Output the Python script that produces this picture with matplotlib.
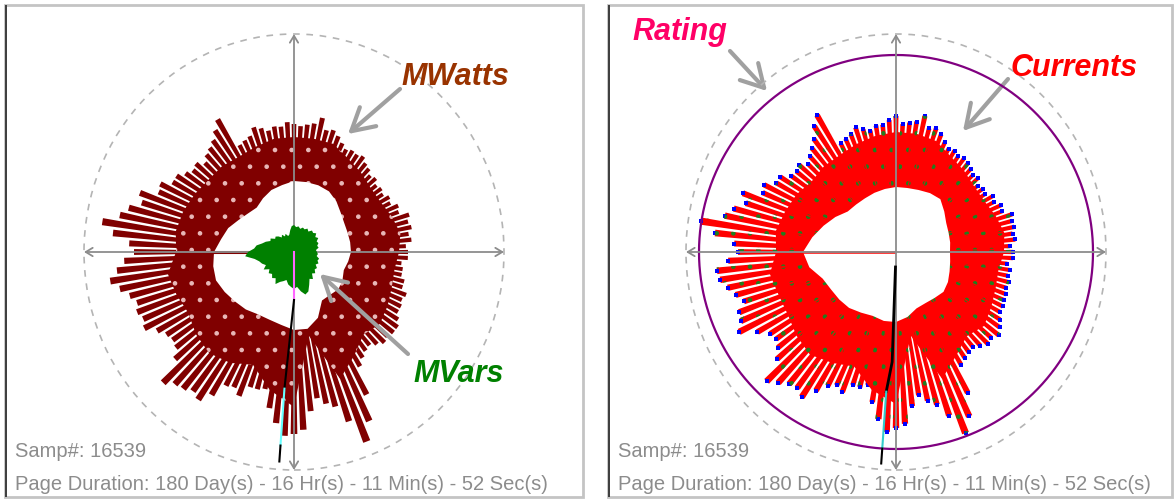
import numpy as np
import matplotlib
matplotlib.use('Agg')
import matplotlib.pyplot as plt
from matplotlib.patches import Ellipse, Rectangle

W, H = 1176, 502
plt.rcParams['hatch.linewidth'] = 0.9

# ---- data (radius in trend units, full scale ring = 210) ----
peak_deg = np.arange(0, 360, 3)
mwatts_peak = [114, 112, 118, 116, 120, 118, 121,
               112, 114, 108, 110, 106, 108, 106, 110, 108,
               112, 114, 118, 116, 117, 115, 119,
               124, 128, 126, 137, 130, 128, 126,
               128, 130, 126, 127, 124, 128, 131, 124, 122, 120,
               153, 145, 138, 134, 131, 126,
               132, 130, 134, 140, 140, 150, 148,
               165, 160, 171, 178, 194, 182, 165,
               160, 170, 178, 186, 178, 170, 165,
               168, 165, 168, 158, 152, 150, 152, 160,
               185, 178, 176, 172, 176, 165,
               150, 148, 154, 142, 142, 140,
               158, 172, 184, 182, 178, 160,
               148, 155, 160, 178,
               203, 185, 160,
               132, 126, 122, 120, 124, 128, 126, 128, 128, 124,
               120, 120, 118, 120, 114, 114, 110, 110, 108, 114]
amps_peak = [117, 114, 120, 118, 121, 120, 122,
             114, 115, 110, 112, 106, 108, 105, 110, 109,
             112, 114, 116, 114, 117, 116, 120,
             126, 130, 128, 139, 132, 130, 128,
             136, 132, 128, 128, 124, 127, 131, 126, 124, 122,
             158, 150, 140, 134, 129, 125,
             130, 128, 130, 138, 138, 148, 146,
             164, 158, 168, 175, 197, 182, 162,
             158, 168, 180, 178, 172, 166, 160,
             168, 170, 176, 160, 150, 148, 152, 160,
             183, 176, 170, 168, 173, 160,
             150, 146, 150, 140, 140, 136,
             152, 168, 180, 176, 172, 155,
             145, 152, 158, 172,
             194, 180, 158,
             130, 126, 124, 122, 126, 130, 128, 132, 128, 124,
             120, 120, 118, 118, 116, 117, 114, 115, 112, 117]

ring_deg = np.arange(0, 360, 10)
mwatts_body = [105, 108, 104, 100, 100, 104, 108, 115, 115, 115,
               115, 112, 110, 112, 112, 115, 118, 120, 118, 128,
               125, 122, 128, 132, 128, 120, 140, 155, 85, 135,
               120, 108, 112, 108, 104, 102]
mwatts_inner = [57, 57, 57, 58, 61, 66, 70, 71, 71, 71,
                68, 66, 62, 58, 60, 64, 70, 74, 80, 82,
                83, 80, 77, 75, 72, 72, 74, 78, 78, 70,
                56, 56, 58, 56, 53, 55]
amps_body = [108, 110, 106, 102, 102, 106, 110, 118, 120, 120,
             118, 115, 112, 112, 110, 115, 118, 122, 120, 128,
             125, 125, 130, 134, 128, 122, 140, 152, 85, 135,
             120, 110, 115, 110, 106, 104]
amps_inner = [54, 55, 56, 58, 63, 69, 68, 66, 65, 65,
              64, 63, 62, 62, 63, 70, 77, 85, 93, 88,
              78, 75, 74, 73, 70, 68, 70, 70, 66, 60,
              59, 60, 62, 60, 57, 55]

var_deg = np.arange(0, 360, 5)
mvars = [23, 22, 25, 24, 26, 25, 28, 26, 29, 27, 28, 25, 27, 25, 26, 24,
         26, 25, 27, 26, 22, 18, 17, 20, 18, 21, 19, 22, 24, 23, 27, 26,
         30, 33, 38, 40, 46, 49, 40, 36, 34, 31, 35, 30, 33, 31, 34, 32,
         37, 33, 31, 29, 33, 35, 37, 35, 40, 44, 42, 36, 31, 33, 28, 30,
         27, 28, 25, 27, 25, 26, 23, 24]

rating = 197
full_scale_x = 210
full_scale_y = 218

# near-vertical trace from centre (deg, r)
trace_l_deg = [270, 270, 266, 266, 266]
trace_l_r = [0, 48, 137, 194, 210]
trace_r_deg = [268, 268, 266, 266, 266]
trace_r_r = [15, 110, 140, 197, 212]

samp_text = "Samp#: 16539"
dur_text = "Page Duration: 180 Day(s) - 16 Hr(s) - 11 Min(s) - 52 Sec(s)"

RMAX = 225
fig = plt.figure(figsize=(W / 100, H / 100), dpi=100)
fig.patch.set_facecolor('white')


def px_rect(x0, y0, x1, y1, **kw):
    return Rectangle((x0 / W, (H - y1) / H), (x1 - x0) / W, (y1 - y0) / H,
                     transform=fig.transFigure, **kw)


def make_polar(cx, cy):
    ax = fig.add_axes([(cx - RMAX) / W, (H - cy - RMAX) / H, 2 * RMAX / W, 2 * RMAX / H],
                      projection='polar')
    ax.set_theta_zero_location('E')
    ax.set_rlim(0, RMAX)
    ax.grid(False)
    ax.set_xticks([])
    ax.set_yticks([])
    ax.spines['polar'].set_visible(False)
    ax.patch.set_alpha(0)
    # dashed full scale ring
    ax.add_patch(Ellipse((0.5, 0.5), full_scale_x / RMAX, full_scale_y / RMAX,
                         transform=ax.transAxes, fill=False, ec='#b4b4b4',
                         lw=1.2, ls=(0, (4, 4)), clip_on=False))
    return ax


def draw_axes_cross(ax):
    ends = [(0, full_scale_x), (np.pi / 2, full_scale_y), (np.pi, full_scale_x),
            (1.5 * np.pi, full_scale_y)]
    for th, r in ends:
        ax.annotate('', xy=(th, r), xytext=(0, 0),
                    arrowprops=dict(arrowstyle='->,head_length=0.5,head_width=0.3',
                                    color='#8c8c8c', lw=1.3, shrinkA=0, shrinkB=0),
                    zorder=6)


th_peak = np.deg2rad(peak_deg)
th_ring = np.deg2rad(ring_deg)
th_var = np.deg2rad(var_deg)
bar_w = np.deg2rad(3) * 0.7

# ---------------- left: MWatts / MVars ----------------
axl = make_polar(294, 253)
axl.bar(th_peak, mwatts_peak, width=bar_w, color='#800000', lw=0, zorder=2)
axl.fill(th_ring, mwatts_body, color='#800000', lw=0, zorder=2.1)
axl.fill(th_ring, mwatts_body, facecolor='none', edgecolor='#e8b8b8', hatch='.',
         lw=0, zorder=2.2)
axl.fill(th_ring, mwatts_inner, color='white', lw=0, zorder=3)
axl.vlines(np.pi, 29, 149, color='#800000', lw=2.2, zorder=4)
draw_axes_cross(axl)
axl.fill(th_var, mvars, color='#008000', lw=0, zorder=7)
axl.plot(np.deg2rad(trace_l_deg[:2]), trace_l_r[:2], color='#ff66ff', lw=1.5, zorder=8)
axl.plot(np.deg2rad(trace_l_deg[1:3]), trace_l_r[1:3], color='black', lw=1.5, zorder=8)
axl.plot(np.deg2rad(trace_l_deg[2:4]), trace_l_r[2:4], color='#66ffff', lw=1.5, zorder=8)
axl.plot(np.deg2rad(trace_l_deg[3:]), trace_l_r[3:], color='black', lw=1.5, zorder=8)

# ---------------- right: Currents / Rating ----------------
axr = make_polar(896, 253)
circ = np.linspace(0, 2 * np.pi, 361)
axr.plot(circ, np.full_like(circ, rating), color='#800080', lw=1.6, zorder=5)
axr.bar(th_peak, amps_peak, width=bar_w, color='#ff0000', lw=0, zorder=2)
axr.plot(th_peak, amps_peak, ls='none', marker='s', ms=2.6, mew=0,
         color='#0000ff', zorder=2.05)
axr.fill(th_ring, amps_body, color='#ff0000', lw=0, zorder=2.1)
axr.bar(th_peak, amps_peak, width=bar_w, facecolor='none', edgecolor='#1f7f1f',
        hatch='.', lw=0, zorder=2.2)
axr.fill(th_ring, amps_inner, color='white', lw=0, zorder=3)
axr.vlines(np.pi, 0, 100, color='#ff0000', lw=1.8, zorder=4)
draw_axes_cross(axr)
axr.plot(np.deg2rad(trace_r_deg[:3]), trace_r_r[:3], color='black', lw=2, zorder=8)
axr.plot(np.deg2rad(trace_r_deg[2:4]), trace_r_r[2:4], color='#33cccc', lw=1.5, zorder=8)
axr.plot(np.deg2rad(trace_r_deg[3:]), trace_r_r[3:], color='black', lw=1.5, zorder=8)

# ---------------- frames & status text ----------------
for x0, x1 in [(5, 583), (608, 1172)]:
    fig.patches.append(px_rect(x0, 6, x1, 498, fill=False, ec='#c4c4c4', lw=2))
    fig.patches.append(px_rect(x0, 6, x0 + 2, 498, color='#404040', lw=0))
    fig.text((x0 + 10) / W, 1 - 452 / H, samp_text, fontsize=14.5, color='#8c8c8c',
             family='Liberation Sans', va='center')
    fig.text((x0 + 10) / W, 1 - 485 / H, dur_text, fontsize=14.5, color='#8c8c8c',
             family='Liberation Sans', va='center')

# ---------------- callouts ----------------
labels = [("MWatts", '#993300', 401, 85, (400, 90), (348, 135)),
          ("MVars", '#008000', 413, 382, (408, 355), (320, 275)),
          ("Rating", '#ff0066', 632, 40, (730, 52), (767, 92)),
          ("Currents", '#ff0000', 1011, 76, (1008, 80), (963, 132))]
for txt, col, x, y, p0, p1 in labels:
    fig.text(x / W, 1 - y / H, txt, fontsize=22, color=col, weight='bold',
             style='italic', family='Liberation Sans', va='baseline')
    axl.annotate('', xy=(p1[0], H - p1[1]), xycoords='figure pixels',
                 xytext=(p0[0], H - p0[1]), textcoords='figure pixels',
                 arrowprops=dict(arrowstyle='->,head_length=0.8,head_width=0.45',
                                 color='#a0a0a0', lw=3, mutation_scale=20,
                                 shrinkA=0, shrinkB=0),
                 annotation_clip=False)

fig.savefig('out.png', dpi=100)
